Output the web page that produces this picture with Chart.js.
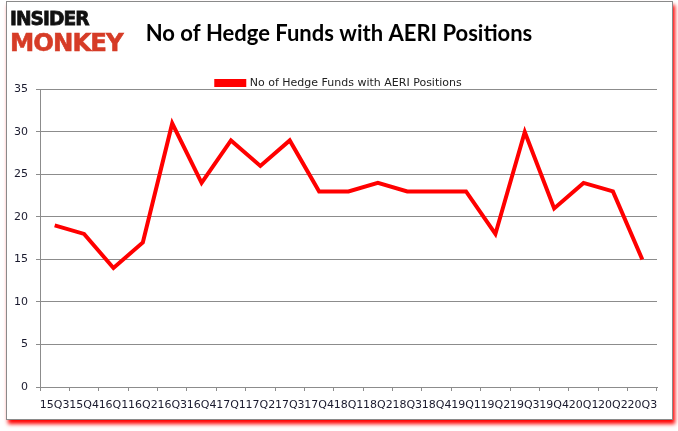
<!DOCTYPE html>
<html>
<head>
<meta charset="utf-8">
<script src="https://cdn.jsdelivr.net/npm/chart.js@4"></script>
<style>
  html, body { margin: 0; padding: 0; background: #fff; }
  body { width: 678px; height: 431px; position: relative; overflow: hidden; }
  #frame {
    position: absolute; left: 6px; top: 1px; width: 665px; height: 417px;
    border: 1px solid #8a8a8a; background: #fff;
    box-shadow: 2px 4px 4px #ff0000;
  }
  #chart { position: absolute; left: 0; top: 0; }
  .logo { position: absolute; left: 10px; font-family: "DejaVu Sans", sans-serif; font-weight: bold; transform-origin: 0 0; white-space: nowrap; }
  #logo1 { top: 6px; font-size: 20px; color: #111; letter-spacing: -1px; -webkit-text-stroke: 0.8px #111; }
  #logo2 { top: 28px; font-size: 25px; color: #d63c27; letter-spacing: -1px; -webkit-text-stroke: 0.6px #d63c27; }
</style>
</head>
<body>
<div id="frame"></div>
<canvas id="chart" width="678" height="431"></canvas>
<div class="logo" id="logo1">INSIDER</div>
<div class="logo" id="logo2">MONKEY</div>
<script>
const quarters = ["15Q3","15Q4","16Q1","16Q2","16Q3","16Q4","17Q1","17Q2","17Q3","17Q4",
  "18Q1","18Q2","18Q3","18Q4","19Q1","19Q2","19Q3","19Q4","20Q1","20Q2","20Q3"];
const hedgeFunds = [19, 18, 14, 17, 31, 24, 29, 26, 29, 23, 23, 24, 23, 23, 23, 18, 30, 21, 24, 23, 15];
const yTicks = [0, 5, 10, 15, 20, 25, 30, 35];

const seriesName = "No of Hedge Funds with AERI Positions";
const titleText = "No of Hedge Funds with AERI Positions";

// squeeze logo words to their box in the picture
function fitLogo(id, w) {
  const el = document.getElementById(id);
  el.style.transform = "scaleX(" + (w / el.offsetWidth) + ")";
}
fitLogo("logo1", 79);
fitLogo("logo2", 113);

const gridGray = "#8c8c8c";
const tickFont = { family: "DejaVu Sans", size: 11 };

new Chart(document.getElementById("chart"), {
  type: "line",
  data: {
    labels: quarters,
    datasets: [{
      label: seriesName,
      data: hedgeFunds,
      borderColor: "#ff0000",
      backgroundColor: "#ff0000",
      borderWidth: 4,
      pointRadius: 0,
      tension: 0,
      fill: false
    }]
  },
  options: {
    responsive: false,
    animation: false,
    layout: { padding: 0 },
    plugins: {
      title: {
        display: true,
        text: titleText,
        color: "#000",
        font: { family: "Lato", size: 22, weight: "bold" },
        padding: { top: 21, bottom: 30 }
      },
      legend: {
        display: true,
        position: "top",
        maxHeight: 12,
        labels: {
          color: "#222",
          font: { family: "DejaVu Sans", size: 11 },
          boxWidth: 28,
          boxHeight: 4,
          padding: 0
        }
      },
      tooltip: { enabled: false }
    },
    scales: {
      x: {
        offset: true,
        grid: { offset: true, drawOnChartArea: false, color: gridGray, tickLength: 4 },
        border: { color: gridGray },
        ticks: { color: "#1a1a2e", font: tickFont, maxRotation: 0, autoSkip: false, padding: 8 },
        afterFit(scale) { scale.height = 44; }
      },
      y: {
        min: 0,
        max: 35,
        afterBuildTicks(scale) { scale.ticks = yTicks.map(v => ({ value: v })); },
        grid: { color: gridGray, tickLength: 4 },
        border: { color: gridGray },
        ticks: { color: "#1a1a2e", font: tickFont, padding: 8 },
        afterFit(scale) { scale.width = 40; }
      },
      // empty right-hand spacer so the title stays centred on the canvas
      spacer: {
        type: "linear",
        position: "right",
        grid: { display: false },
        border: { display: false },
        ticks: { display: false },
        afterFit(scale) { scale.width = 21; }
      }
    }
  }
});
</script>
</body>
</html>
